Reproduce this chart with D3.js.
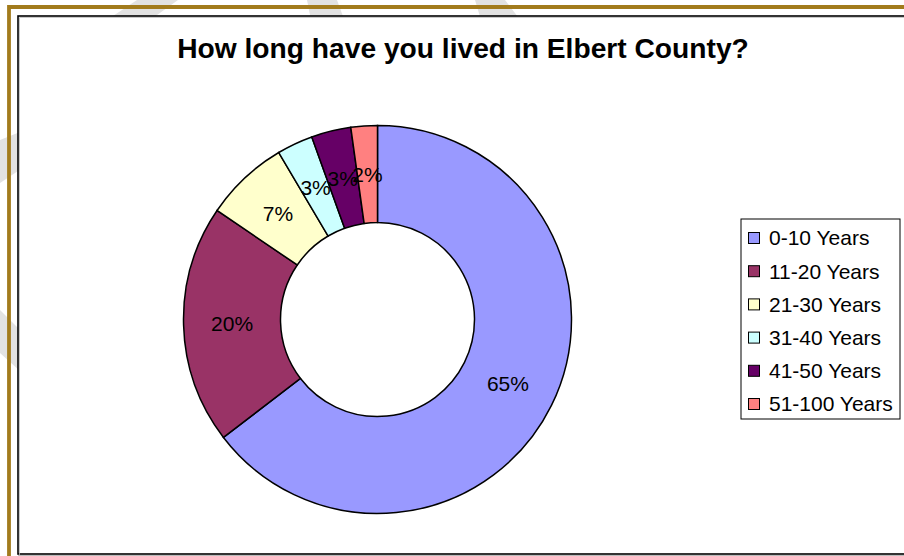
<!DOCTYPE html>
<html lang="en">
<head>
<meta charset="UTF-8">
<title>How long have you lived in Elbert County?</title>
<script src="https://d3js.org/d3.v7.min.js"></script>
<style>
  body { margin: 0; background: #fff; }
  text { font-family: "Liberation Sans", Arial, sans-serif; }
</style>
</head>
<body>
<div id="chart"></div>
<script>
// categories and values (share of respondents, %)
var categories = ["0-10 Years", "11-20 Years", "21-30 Years", "31-40 Years", "41-50 Years", "51-100 Years"];
var values = [64.6, 19.9, 7.0, 3.0, 3.3, 2.2];
var colors = ["#9999FF", "#993366", "#FFFFCC", "#CCFFFF", "#660066", "#FF8080"];
var title = "How long have you lived in Elbert County?";

var W = 904, H = 556;

var svg = d3.select("#chart")
  .append("svg")
    .attr("width", W)
    .attr("height", H);

// faint grey watermark stripes behind the frame
var stripes = [
  [[137,0],[178,0],[136,30],[92,30]],
  [[307,0],[337,0],[348,30],[313,30]],
  [[475,0],[505,0],[528,30],[484,30]],
  [[0,140],[0,183],[30,163],[30,128]],
  [[0,310],[0,353],[30,380],[30,340]]
];
svg.selectAll(".stripe")
  .data(stripes)
  .enter()
  .append("polygon")
    .attr("class", "stripe")
    .attr("points", function(d) { return d.map(function(p) { return p.join(","); }).join(" "); })
    .style("fill", "#e2e2e2");

// gold outer frame
svg.append("path")
  .attr("d", "M9,556 V7 H904")
  .style("fill", "none")
  .style("stroke", "#A27B1C")
  .style("stroke-width", 3.8);

// chart area
svg.append("rect")
  .attr("x", 18).attr("y", 16)
  .attr("width", 900).attr("height", 538)
  .style("fill", "#fff")
  .style("stroke", "#000")
  .style("stroke-width", 1.6);
svg.append("path")
  .attr("d", "M19.5,556 V17.5 H904")
  .style("fill", "none")
  .style("stroke", "#bbb")
  .style("stroke-width", 0.8);
svg.append("line")
  .attr("x1", 18).attr("x2", 904).attr("y1", 555.5).attr("y2", 555.5)
  .style("stroke", "#bbb").style("stroke-width", 1);

// title
svg.append("text")
  .attr("x", 463)
  .attr("y", 58)
  .attr("text-anchor", "middle")
  .style("font-size", "28.2px")
  .style("font-weight", "bold")
  .text(title);

// donut
var cx = 377.5, cy = 319.5, outerR = 194, innerR = 97;

var pie = d3.pie().sort(null).value(function(d) { return d; });
var arc = d3.arc().innerRadius(innerR).outerRadius(outerR);

var g = svg.append("g")
  .attr("transform", "translate(" + cx + "," + cy + ")");

var arcs = pie(values);

g.selectAll(".slice")
  .data(arcs)
  .enter()
  .append("path")
    .attr("class", "slice")
    .attr("d", arc)
    .style("fill", function(d, i) { return colors[i]; })
    .style("stroke", "#000")
    .style("stroke-width", 1.5);

g.selectAll(".lbl")
  .data(arcs)
  .enter()
  .append("text")
    .attr("class", "lbl")
    .attr("transform", function(d) { return "translate(" + arc.centroid(d) + ")"; })
    .attr("dy", "0.35em")
    .attr("text-anchor", "middle")
    .style("font-size", "21px")
    .text(function(d) { return Math.round(d.data) + "%"; });

// legend
var legend = svg.append("g").attr("transform", "translate(741,219)");
legend.append("rect")
  .attr("width", 159).attr("height", 200)
  .style("fill", "#fff")
  .style("stroke", "#000")
  .style("stroke-width", 1);

var item = legend.selectAll(".item")
  .data(categories)
  .enter()
  .append("g")
    .attr("class", "item")
    .attr("transform", function(d, i) { return "translate(0," + (19 + i * 33.2) + ")"; });

item.append("rect")
  .attr("x", 7.5).attr("y", -5.5)
  .attr("width", 11).attr("height", 11)
  .style("fill", function(d, i) { return colors[i]; })
  .style("stroke", "#000")
  .style("stroke-width", 1);

item.append("text")
  .attr("x", 28)
  .attr("y", 7.3)
  .style("font-size", "21px")
  .text(function(d) { return d; });
</script>
</body>
</html>
